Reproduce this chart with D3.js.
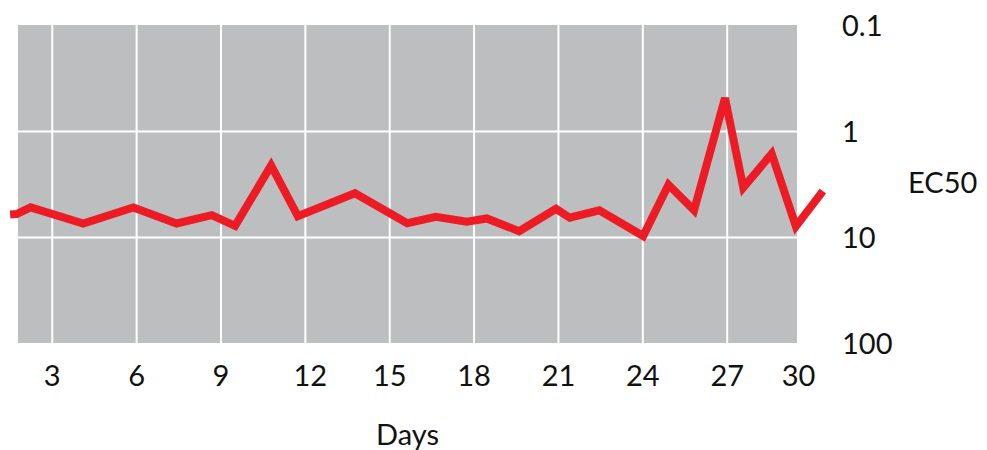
<!DOCTYPE html>
<html>
<head>
<meta charset="utf-8">
<script src="https://cdn.jsdelivr.net/npm/d3@7"></script>
<style>
  body { margin: 0; background: #fff; }
  text { font-family: Lato, "Open Sans", sans-serif; fill: #111; }
</style>
</head>
<body>
<div id="chart"></div>
<script>
// sample days (irregular spacing) and EC50 readings
const days = [1.52, 1.75, 2.25, 4.12, 5.90, 7.44, 8.69, 9.52, 10.80, 11.75, 13.78,
  15.64, 16.65, 17.76, 18.47, 19.62, 20.93, 21.42, 22.47, 24.03, 24.93, 25.84,
  26.94, 27.59, 28.60, 29.46, 30.42];
const ec50 = [6.14, 6.07, 5.25, 7.46, 5.27, 7.46, 6.23, 7.85, 2.11, 6.36, 3.87,
  7.41, 6.44, 7.16, 6.68, 8.82, 5.42, 6.58, 5.61, 9.79, 3.21, 5.61,
  0.488, 3.42, 1.64, 7.94, 3.69];
const xTicks = [3, 6, 9, 12, 15, 18, 21, 24, 27, 30];
const yTicks = [0.1, 1, 10, 100];

const width = 987, height = 450;
const svg = d3.select('#chart').append('svg')
  .attr('width', width)
  .attr('height', height);

const x = d3.scaleLinear().domain([1.8, 29.5]).range([18, 797]);
const y = d3.scaleLog().domain([0.1, 100]).range([25, 343]);

const [x0, x1] = x.range();
const [y0, y1] = y.range();

// plot background
svg.append('rect')
  .attr('x', x0)
  .attr('y', y0)
  .attr('width', x1 - x0)
  .attr('height', y1 - y0)
  .attr('fill', '#bdbec0');

// vertical grid
svg.append('g')
  .attr('class', 'xgrid')
  .attr('transform', `translate(0,${y1})`)
  .call(d3.axisBottom(x)
    .tickValues(xTicks.filter(d => x(d) < x1))
    .tickSize(-(y1 - y0))
    .tickFormat(''))
  .call(g => g.select('.domain').remove())
  .call(g => g.selectAll('line').attr('stroke', '#fff').attr('stroke-width', 2));

// horizontal grid
svg.append('g')
  .attr('class', 'ygrid')
  .attr('transform', `translate(${x0},0)`)
  .call(d3.axisRight(y)
    .tickValues([1, 10])
    .tickSize(x1 - x0)
    .tickFormat(''))
  .call(g => g.select('.domain').remove())
  .call(g => g.selectAll('line').attr('stroke', '#fff').attr('stroke-width', 2));

// x axis labels
svg.append('g')
  .attr('class', 'xaxis')
  .attr('transform', `translate(0,${y1})`)
  .call(d3.axisBottom(x).tickValues(xTicks).tickSize(0).tickPadding(22))
  .call(g => g.select('.domain').remove())
  .call(g => g.selectAll('text')
    .style('font-size', '29px')
    .attr('fill', '#111')
    .attr('x', d => d === 30 ? -13 : (d === 12 ? 5 : 0)));

svg.append('text')
  .attr('x', (x0 + x1) / 2)
  .attr('y', 445)
  .attr('text-anchor', 'middle')
  .style('font-size', '29px')
  .text('Days');

// y axis labels on the right
svg.append('g')
  .attr('class', 'yaxis')
  .attr('transform', 'translate(842,0)')
  .call(d3.axisRight(y).tickValues(yTicks).tickSize(0).tickPadding(0)
    .tickFormat(d3.format('~g')))
  .call(g => g.select('.domain').remove())
  .call(g => g.selectAll('text')
    .style('font-size', '29px')
    .attr('fill', '#111')
    .attr('dy', '0.35em'));

svg.append('text')
  .attr('x', 908)
  .attr('y', 193)
  .style('font-size', '29px')
  .text('EC50');

// EC50 line
const line = d3.line()
  .x((d, i) => x(days[i]))
  .y(d => y(d));

svg.append('path')
  .datum(ec50)
  .attr('fill', 'none')
  .attr('stroke', '#ed1c24')
  .attr('stroke-width', 8)
  .attr('stroke-linejoin', 'miter')
  .attr('d', line);
</script>
</body>
</html>
